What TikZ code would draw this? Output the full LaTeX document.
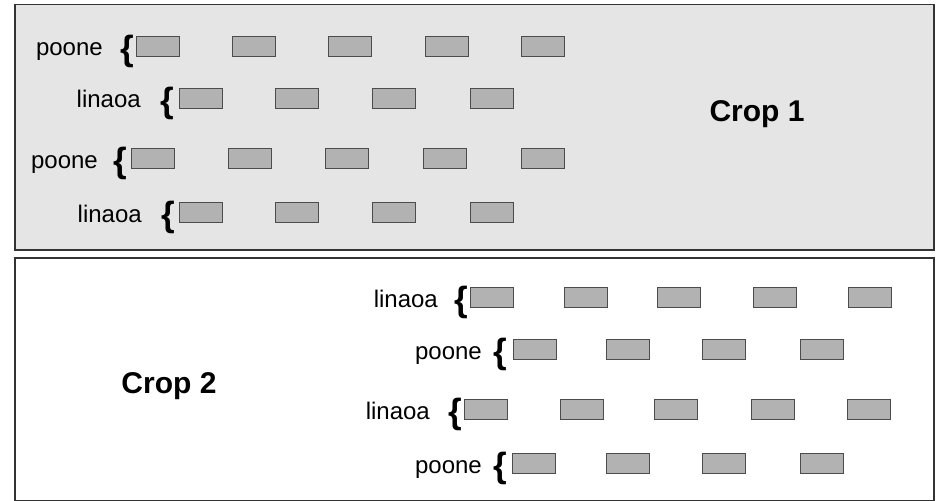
\documentclass[tikz,border=0pt]{standalone}
\usepackage{fontspec}
\setmainfont{Liberation Sans}
\begin{document}
\begin{tikzpicture}[x=1pt,y=-1pt,
  panel/.style={draw=black!80, line width=1.5pt, inner sep=0pt, anchor=north west},
  cell/.style={draw=black!70, fill=black!30, minimum width=43pt, minimum height=20pt, inner sep=0pt, line width=0.9pt},
  lbl/.style={font=\fontsize{24}{28}\selectfont, inner sep=0pt, anchor=base east},
  brc/.style={font=\fontsize{35}{36}\selectfont\bfseries, inner sep=0pt},
  ttl/.style={font=\fontsize{30}{34}\selectfont\bfseries, inner sep=0pt}]
\useasboundingbox (0,0) rectangle (941,500);
\node[panel, fill=black!10, minimum width=919pt, minimum height=245pt] (p1) at (14,4) {};
\node[panel, fill=white, minimum width=919pt, minimum height=243pt] (p2) at (14,257) {};
\node[ttl] (t1) at (757,114) {Crop 1};
\node[ttl] (t2) at (169,386) {Crop 2};
\foreach \yc/\lx/\lab/\bx/\xs [count=\r] in {
  46/103/poone/127/{136,232,328,425,521},
  98/141/linaoa/167/{179,275,372,470},
  158/98/poone/120/{131,228,325,423,521},
  212/142/linaoa/168/{179,275,372,470},
  297/438/linaoa/461/{470,564,657,753,848},
  349/482/poone/500/{513,606,702,800},
  409/430/linaoa/455/{464,560,654,751,847},
  463/482/poone/500/{512,606,702,800}} {
  \node[lbl] (l-\r) at (\lx,\yc+10) {\lab};
  \node[brc] (b-\r) at (\bx,\yc+5) {\{};
  \foreach \x [count=\i] in \xs {
    \node[cell, anchor=west] (c-\r-\i) at (\x,\yc) {};
  }
}
\end{tikzpicture}
\end{document}
